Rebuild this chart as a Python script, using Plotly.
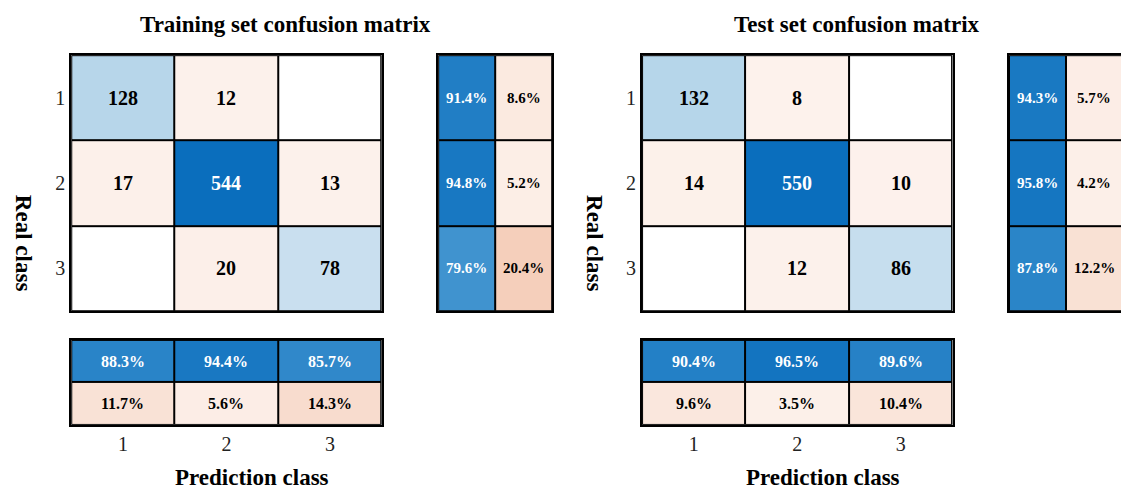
import plotly.graph_objects as go

classes = ["1", "2", "3"]
train_counts = [[128, 12, 0], [17, 544, 13], [0, 20, 78]]
test_counts = [[132, 8, 0], [14, 550, 10], [0, 12, 86]]
train_row_pct = [[91.4, 8.6], [94.8, 5.2], [79.6, 20.4]]
test_row_pct = [[94.3, 5.7], [95.8, 4.2], [87.8, 12.2]]
train_col_pct = [[88.3, 94.4, 85.7], [11.7, 5.6, 14.3]]
test_col_pct = [[90.4, 96.5, 89.6], [9.6, 3.5, 10.4]]

FONT = "Liberation Serif"
cscale = [[0, "#e9a98a"], [0.4, "#f5cfbb"], [0.46, "#fbebe2"], [0.499, "#fdf3ee"],
          [0.5, "#ffffff"], [0.52, "#dde9f4"], [0.62, "#b6d6ea"], [0.9, "#3f93cf"], [1, "#0a6ebd"]]

fig = go.Figure()
axis_n = [0]


def add_panel(z, texts, dom_x, dom_y, xticks, yticks, fsize):
    axis_n[0] += 1
    n = axis_n[0]
    xa, ya = ("x%d" % n if n > 1 else "x"), ("y%d" % n if n > 1 else "y")
    nr, nc = len(z), len(z[0])
    fig.add_trace(go.Heatmap(z=z, x=list(range(nc)), y=list(range(nr)), colorscale=cscale,
                             zmin=-1, zmax=1, showscale=False, xgap=2, ygap=2,
                             hoverinfo="skip", xaxis=xa, yaxis=ya))
    for i in range(nr):
        for j in range(nc):
            if texts[i][j]:
                fig.add_annotation(x=j, y=i, xref=xa, yref=ya, text="<b>%s</b>" % texts[i][j],
                                   showarrow=False,
                                   font=dict(family=FONT, size=fsize,
                                             color="white" if z[i][j] > 0.5 else "black"))
    key = "xaxis%d" % n if n > 1 else "xaxis"
    fig.layout[key] = dict(domain=dom_x, anchor=ya, range=[-0.5, nc - 0.5],
                           showline=True, mirror=True, linecolor="black", linewidth=2,
                           showgrid=False, zeroline=False,
                           tickvals=list(range(nc)) if xticks else [],
                           ticktext=xticks or [], ticks="",
                           tickfont=dict(family=FONT, size=20, color="#222"))
    key = "yaxis%d" % n if n > 1 else "yaxis"
    fig.layout[key] = dict(domain=dom_y, anchor=xa, range=[nr - 0.5, -0.5],
                           showline=True, mirror=True, linecolor="black", linewidth=2,
                           showgrid=False, zeroline=False,
                           tickvals=list(range(nr)) if yticks else [],
                           ticktext=yticks or [], ticks="",
                           tickfont=dict(family=FONT, size=20, color="#222"))
    return xa


top_y = [0.383, 0.904]
bot_y = [0.151, 0.324]
for counts, rowp, colp, x0, title in [
        (train_counts, train_row_pct, train_col_pct, 0.056, "Training set confusion matrix"),
        (test_counts, test_row_pct, test_col_pct, 0.5616, "Test set confusion matrix")]:
    mx = max(max(r) for r in counts)
    zm = [[(v / mx if i == j else -v / mx) for j, v in enumerate(r)] for i, r in enumerate(counts)]
    tm = [[str(v) if v else "" for v in r] for r in counts]
    add_panel(zm, tm, [x0, x0 + 0.275], top_y, None, classes, 20)
    zr = [[r[0] / 100, -r[1] / 100] for r in rowp]
    tr = [["%.1f%%" % v for v in r] for r in rowp]
    add_panel(zr, tr, [x0 + 0.325, x0 + 0.426], top_y, None, None, 15)
    zc = [[v / 100 for v in colp[0]], [-v / 100 for v in colp[1]]]
    tc = [["%.1f%%" % v for v in r] for r in colp]
    add_panel(zc, tc, [x0, x0 + 0.275], bot_y, classes, None, 16)
    fig.add_annotation(x=x0 + 0.19, y=0.995, xref="paper", yref="paper", xanchor="center",
                       yanchor="top", text="<b>%s</b>" % title, showarrow=False,
                       font=dict(family=FONT, size=23, color="black"))
    fig.add_annotation(x=x0 + 0.16, y=0.015, xref="paper", yref="paper", xanchor="center",
                       yanchor="bottom", text="<b>Prediction class</b>", showarrow=False,
                       font=dict(family=FONT, size=23, color="black"))
    fig.add_annotation(x=x0 - 0.042, y=0.52, xref="paper", yref="paper", xanchor="center",
                       yanchor="middle", textangle=90,
                       text="<b>Real class</b>", showarrow=False,
                       font=dict(family=FONT, size=23, color="black"))

fig.update_layout(width=1129, height=491, margin=dict(l=0, r=0, t=0, b=0),
                  plot_bgcolor="black", paper_bgcolor="white")
fig.write_html("out.html")
